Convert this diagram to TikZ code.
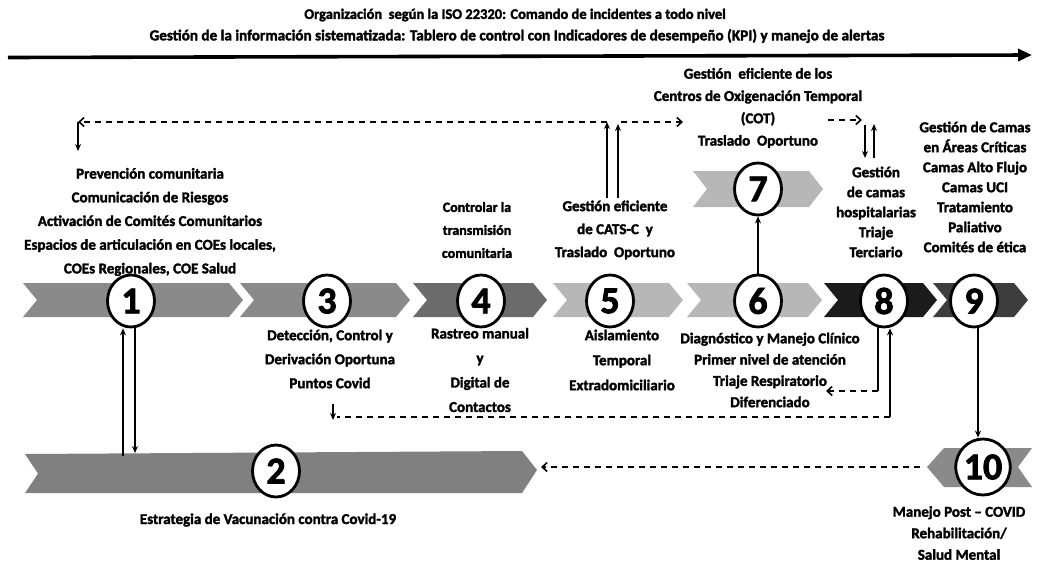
\documentclass[tikz,border=0pt]{standalone}
\usepackage{fontspec}
\setmainfont{Carlito}[BoldFeatures={FakeBold=2}]
\usetikzlibrary{arrows.meta,shapes.geometric}
\definecolor{gmid}{HTML}{8A8A8A}
\definecolor{gdark}{HTML}{6B6B6B}
\definecolor{glight}{HTML}{B7B7B7}
\definecolor{gblack}{HTML}{1B1B1B}
\definecolor{gnine}{HTML}{3D3D3D}
\definecolor{gtwo}{HTML}{808080}
\newcommand{\chevR}[5]{\fill[#5] (#1,#3-#4) -- (#2-14,#3-#4) -- (#2,#3) -- (#2-14,#3+#4) -- (#1,#3+#4) -- (#1+14,#3) -- cycle;}
\begin{document}
\begin{tikzpicture}[x=1pt,y=-1pt,
  num/.style={ellipse, draw=black, line width=2.8pt, fill=white, minimum width=47pt, minimum height=52pt, inner sep=0pt, font=\bfseries\fontsize{38}{38}\selectfont},
  txt/.style={align=center, inner sep=0pt, font=\bfseries\fontsize{15}{23}\selectfont},
  sol/.style={line width=1.8pt, draw=black},
  dsh/.style={line width=1.8pt, draw=black, dash pattern=on 6pt off 5pt},
  tipS/.style={-{Stealth[length=7pt,width=6pt]}},
  tipB/.style={-{Straight Barb[length=5pt,width=9pt,line width=1.6pt]}}
]
\useasboundingbox (0,0) rectangle (1039,563);
\fill[white] (0,0) rectangle (1039,563);

% header
\node[inner sep=0pt, font=\bfseries\fontsize{14.5}{16}\selectfont] (h1) at (515,15) {Organización\ \ según la ISO 22320: Comando de incidentes a todo nivel};
\node[inner sep=0pt, font=\bfseries\fontsize{15.2}{17}\selectfont] (h2) at (517,36) {Gestión de la información sistematizada: Tablero de control con Indicadores de desempeño (KPI) y manejo de alertas};
\coordinate (ta) at (8,57.5);
\coordinate (tb) at (1032,55);
\draw[line width=3.6pt, -{Triangle[length=14pt,width=12pt]}] (ta) -- (tb);

% chevrons
\chevR{23}{243}{300}{17}{gmid}
\chevR{240}{410}{300}{17}{gmid}
\chevR{413}{547}{300}{17}{gdark}
\chevR{553}{683}{300}{17}{glight}
\chevR{687}{822}{300}{17}{glight}
\chevR{824}{937}{300}{17}{gblack}
\chevR{933}{1028}{300}{17}{gnine}
\chevR{693}{823}{189}{18}{glight}
\fill[gtwo] (25,454) -- (522,451) -- (537,470) -- (522,493) -- (25,493) -- (38,473.5) -- cycle;
\fill[gmid] (927,467) -- (944,448) -- (1032,448) -- (1018,467) -- (1032,487) -- (944,487) -- cycle;

% numbered circles
\node[num] (c1) at (131,301) {1};
\node[num] (c3) at (327,301) {3};
\node[num] (c4) at (481,301) {4};
\node[num] (c5) at (610,301) {5};
\node[num] (c6) at (758,301) {6};
\node[num] (c8) at (884,301) {8};
\node[num] (c9) at (974,301) {9};
\node[num] (c7) at (758,189) {7};
\node[num] (c2) at (276,471) {2};
\node[num, minimum width=52pt, minimum height=56pt] (c10) at (983,467) {10};

% texts above
\node[txt, font=\bfseries\fontsize{15}{23.7}\selectfont] (tprev) at (150,222) {Prevención comunitaria\\Comunicación de Riesgos\\Activación de Comités Comunitarios\\Espacios de articulación en COEs locales,\\COEs Regionales, COE Salud};
\node[txt, font=\bfseries\fontsize{14}{23}\selectfont] (tctrl) at (477,230) {Controlar la\\transmisión\\comunitaria};
\node[txt] (tcats) at (615,230) {Gestión eficiente\\de CATS-C\ \ y\\Traslado\ \ Oportuno};
\node[txt, font=\bfseries\fontsize{15}{22.3}\selectfont] (tcot) at (758,108) {Gestión\ \ eficiente de los\\Centros de Oxigenación Temporal\\(COT)\\Traslado\ \ Oportuno};
\node[txt, font=\bfseries\fontsize{15}{20}\selectfont] (thosp) at (876,212) {Gestión\\de camas\\hospitalarias\\Triaje\\Terciario};
\node[txt, font=\bfseries\fontsize{15}{20}\selectfont] (tcrit) at (975,187) {Gestión de Camas\\en Áreas Críticas\\Camas Alto Flujo\\Camas UCI\\Tratamiento\\Paliativo\\Comités de ética};

% texts below
\node[txt, font=\bfseries\fontsize{15}{24}\selectfont] (tdet) at (330,359) {Detección, Control y\\Derivación Oportuna\\Puntos Covid};
\node[txt, font=\bfseries\fontsize{15}{24.5}\selectfont] (trast) at (480,370) {Rastreo manual\\y\\Digital de\\Contactos};
\node[txt, font=\bfseries\fontsize{15}{25}\selectfont] (tais) at (622,360) {Aislamiento\\Temporal\\Extradomiciliario};
\node[txt, font=\bfseries\fontsize{15}{21.3}\selectfont] (tdiag) at (770,370) {Diagnóstico y Manejo Clínico\\Primer nivel de atención\\Triaje Respiratorio\\Diferenciado};
\node[txt] (tvac) at (268,520) {Estrategia de Vacunación contra Covid-19};
\node[txt, font=\bfseries\fontsize{15}{21.5}\selectfont] (tpost) at (959,533) {Manejo Post -- COVID\\Rehabilitación/\\Salud Mental};

% top dashed connectors
\coordinate (jL) at (78,122);
\coordinate (jLd) at (78,151);
\coordinate (jA) at (607,122);
\coordinate (jAb) at (607,198);
\coordinate (jB) at (618,124);
\coordinate (jBb) at (618,198);
\coordinate (jBr) at (621,122);
\coordinate (jC) at (683,122);
\coordinate (jD) at (828,120);
\coordinate (jE) at (862,120);
\coordinate (kA) at (865,125);
\coordinate (kAb) at (865,158);
\coordinate (kB) at (874,158);
\coordinate (kBt) at (874,124);
\draw[dsh, tipB] (jA) -- (jL);
\draw[sol, tipS] (jL) -- (jLd);
\draw[sol, tipS] (jAb) -- (jA);
\draw[sol, tipS] (jBb) -- (jB);
\draw[dsh, tipB] (jBr) -- (jC);
\draw[dsh, tipB] (jD) -- (jE);
\draw[sol, tipS] (kA) -- (kAb);
\draw[sol, tipS] (kB) -- (kBt);

% circle 6 to circle 7
\draw[sol, tipS] (c6.north) -- (c7.south);

% circle 1 <-> chevron 2
\coordinate (v1) at (123,456);
\coordinate (v2) at (135,327);
\coordinate (v2b) at (135,453);
\draw[sol, tipS] (v1) -- (v1 |- c1.south);
\draw[sol, tipS] (v2) -- (v2b);

% circle 8 connectors below
\coordinate (w1) at (878,327);
\coordinate (w1b) at (878,391);
\coordinate (w1c) at (826,391);
\draw[sol] (w1) -- (w1b);
\draw[dsh, tipB] (w1b) -- (w1c);
\coordinate (w2) at (890,417);
\coordinate (w2c) at (337,417);
\coordinate (w3) at (333,404);
\coordinate (w3b) at (333,420);
\draw[sol, tipS] (w2) -- (w2 |- c8.south);
\draw[dsh] (w2) -- (w2c);
\draw[sol, tipS] (w3) -- (w3b);

% circle 9 to circle 10
\coordinate (q9) at (978,326);
\draw[sol, tipS] (q9) -- (q9 |- c10.north);

% chevron 10 to chevron 2
\coordinate (z1) at (920,467);
\coordinate (z2) at (541,467);
\draw[dsh, tipB] (z1) -- (z2);
\end{tikzpicture}
\end{document}
